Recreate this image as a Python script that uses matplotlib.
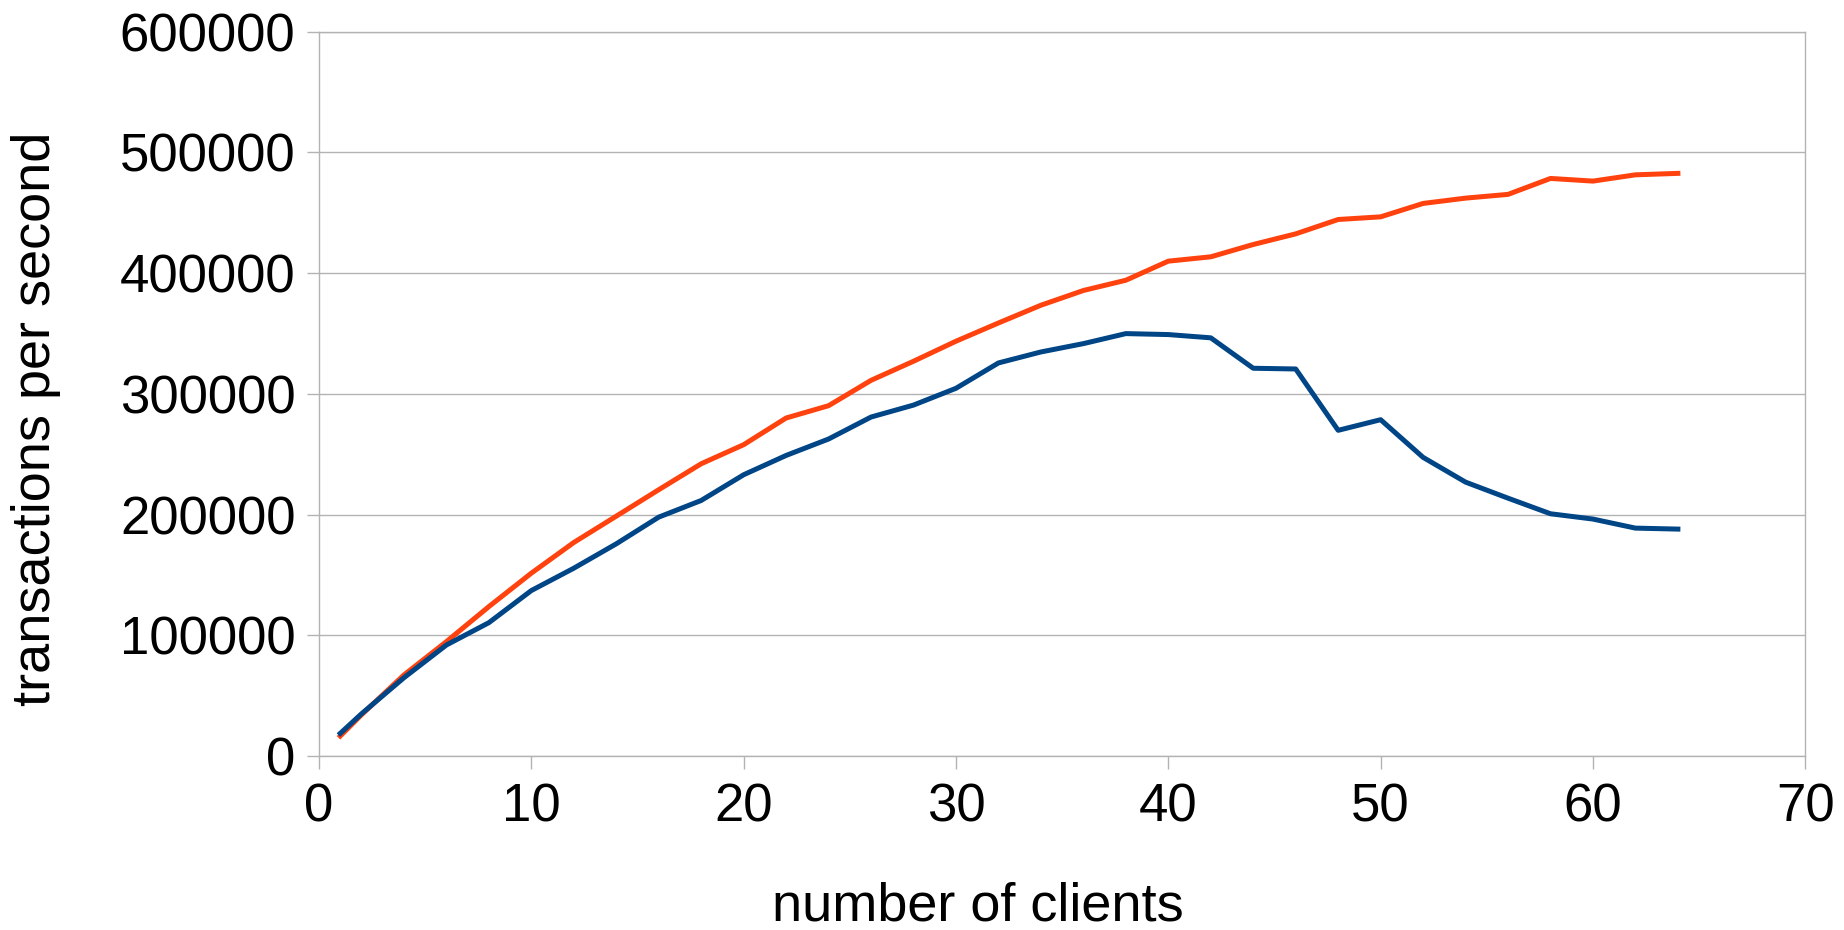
import numpy as np
import matplotlib
matplotlib.use("Agg")
from matplotlib import pyplot as plt

# number of clients
clients = [1, 2, 4, 6, 8, 10, 12, 14, 16, 18, 20, 22, 24, 26, 28, 30, 32,
           34, 36, 38, 40, 42, 44, 46, 48, 50, 52, 54, 56, 58, 60, 62, 64]

# transactions per second, orange series
tps_orange = [16600, 34200, 67200, 94800, 123800, 151500, 176900, 198700,
              220600, 242100, 257900, 280000, 290200, 311200, 327000, 343600,
              358700, 373400, 385600, 394100, 409900, 413500, 423700, 432500,
              444400, 446600, 457700, 462100, 465200, 478400, 476200, 481400,
              482600]

# transactions per second, blue series
tps_blue = [18800, 35000, 64900, 92000, 110500, 137100, 155600, 175800,
            197900, 211700, 233000, 249000, 262600, 280800, 290700, 304600,
            325600, 334700, 341600, 349900, 349100, 346400, 321200, 320600,
            269800, 278600, 247400, 226900, 213600, 200700, 196300, 188800,
            188000]

x_ticks = [0, 10, 20, 30, 40, 50, 60, 70]
y_ticks = [0, 100000, 200000, 300000, 400000, 500000, 600000]

plt.rcParams['font.family'] = ['Liberation Sans', 'DejaVu Sans']

fig = plt.figure(figsize=(18.44, 9.30), dpi=100)
ax = fig.add_axes([0.173, 0.187, 0.806, 0.779])

grid_col = '#b3b3b3'
ax.plot(clients, tps_orange, color='#ff420e', linewidth=3.6, zorder=3)
ax.plot(clients, tps_blue, color='#004586', linewidth=3.6, zorder=4)

ax.set_xlim(0, 70)
ax.set_ylim(0, 600000)
ax.set_xticks(x_ticks)
ax.set_yticks(y_ticks)
ax.set_xticklabels([str(v) for v in x_ticks])
ax.set_yticklabels([str(v) for v in y_ticks])

ax.yaxis.grid(True, color=grid_col, linewidth=1.0)
ax.set_axisbelow(True)
for s in ax.spines.values():
    s.set_color(grid_col)
    s.set_linewidth(1.0)

ax.tick_params(axis='both', direction='out', length=9, width=1.0,
               color=grid_col, labelsize=38)
ax.tick_params(axis='y', pad=8)
ax.tick_params(axis='x', pad=10)

ax.set_xlabel('number of clients', fontsize=39, va='center')
ax.xaxis.set_label_coords(0.443, -0.208)
ax.set_ylabel('transactions per second', fontsize=39, va='center')
ax.yaxis.set_label_coords(-0.1905, 0.466)

fig.savefig('out.png', dpi=100)
